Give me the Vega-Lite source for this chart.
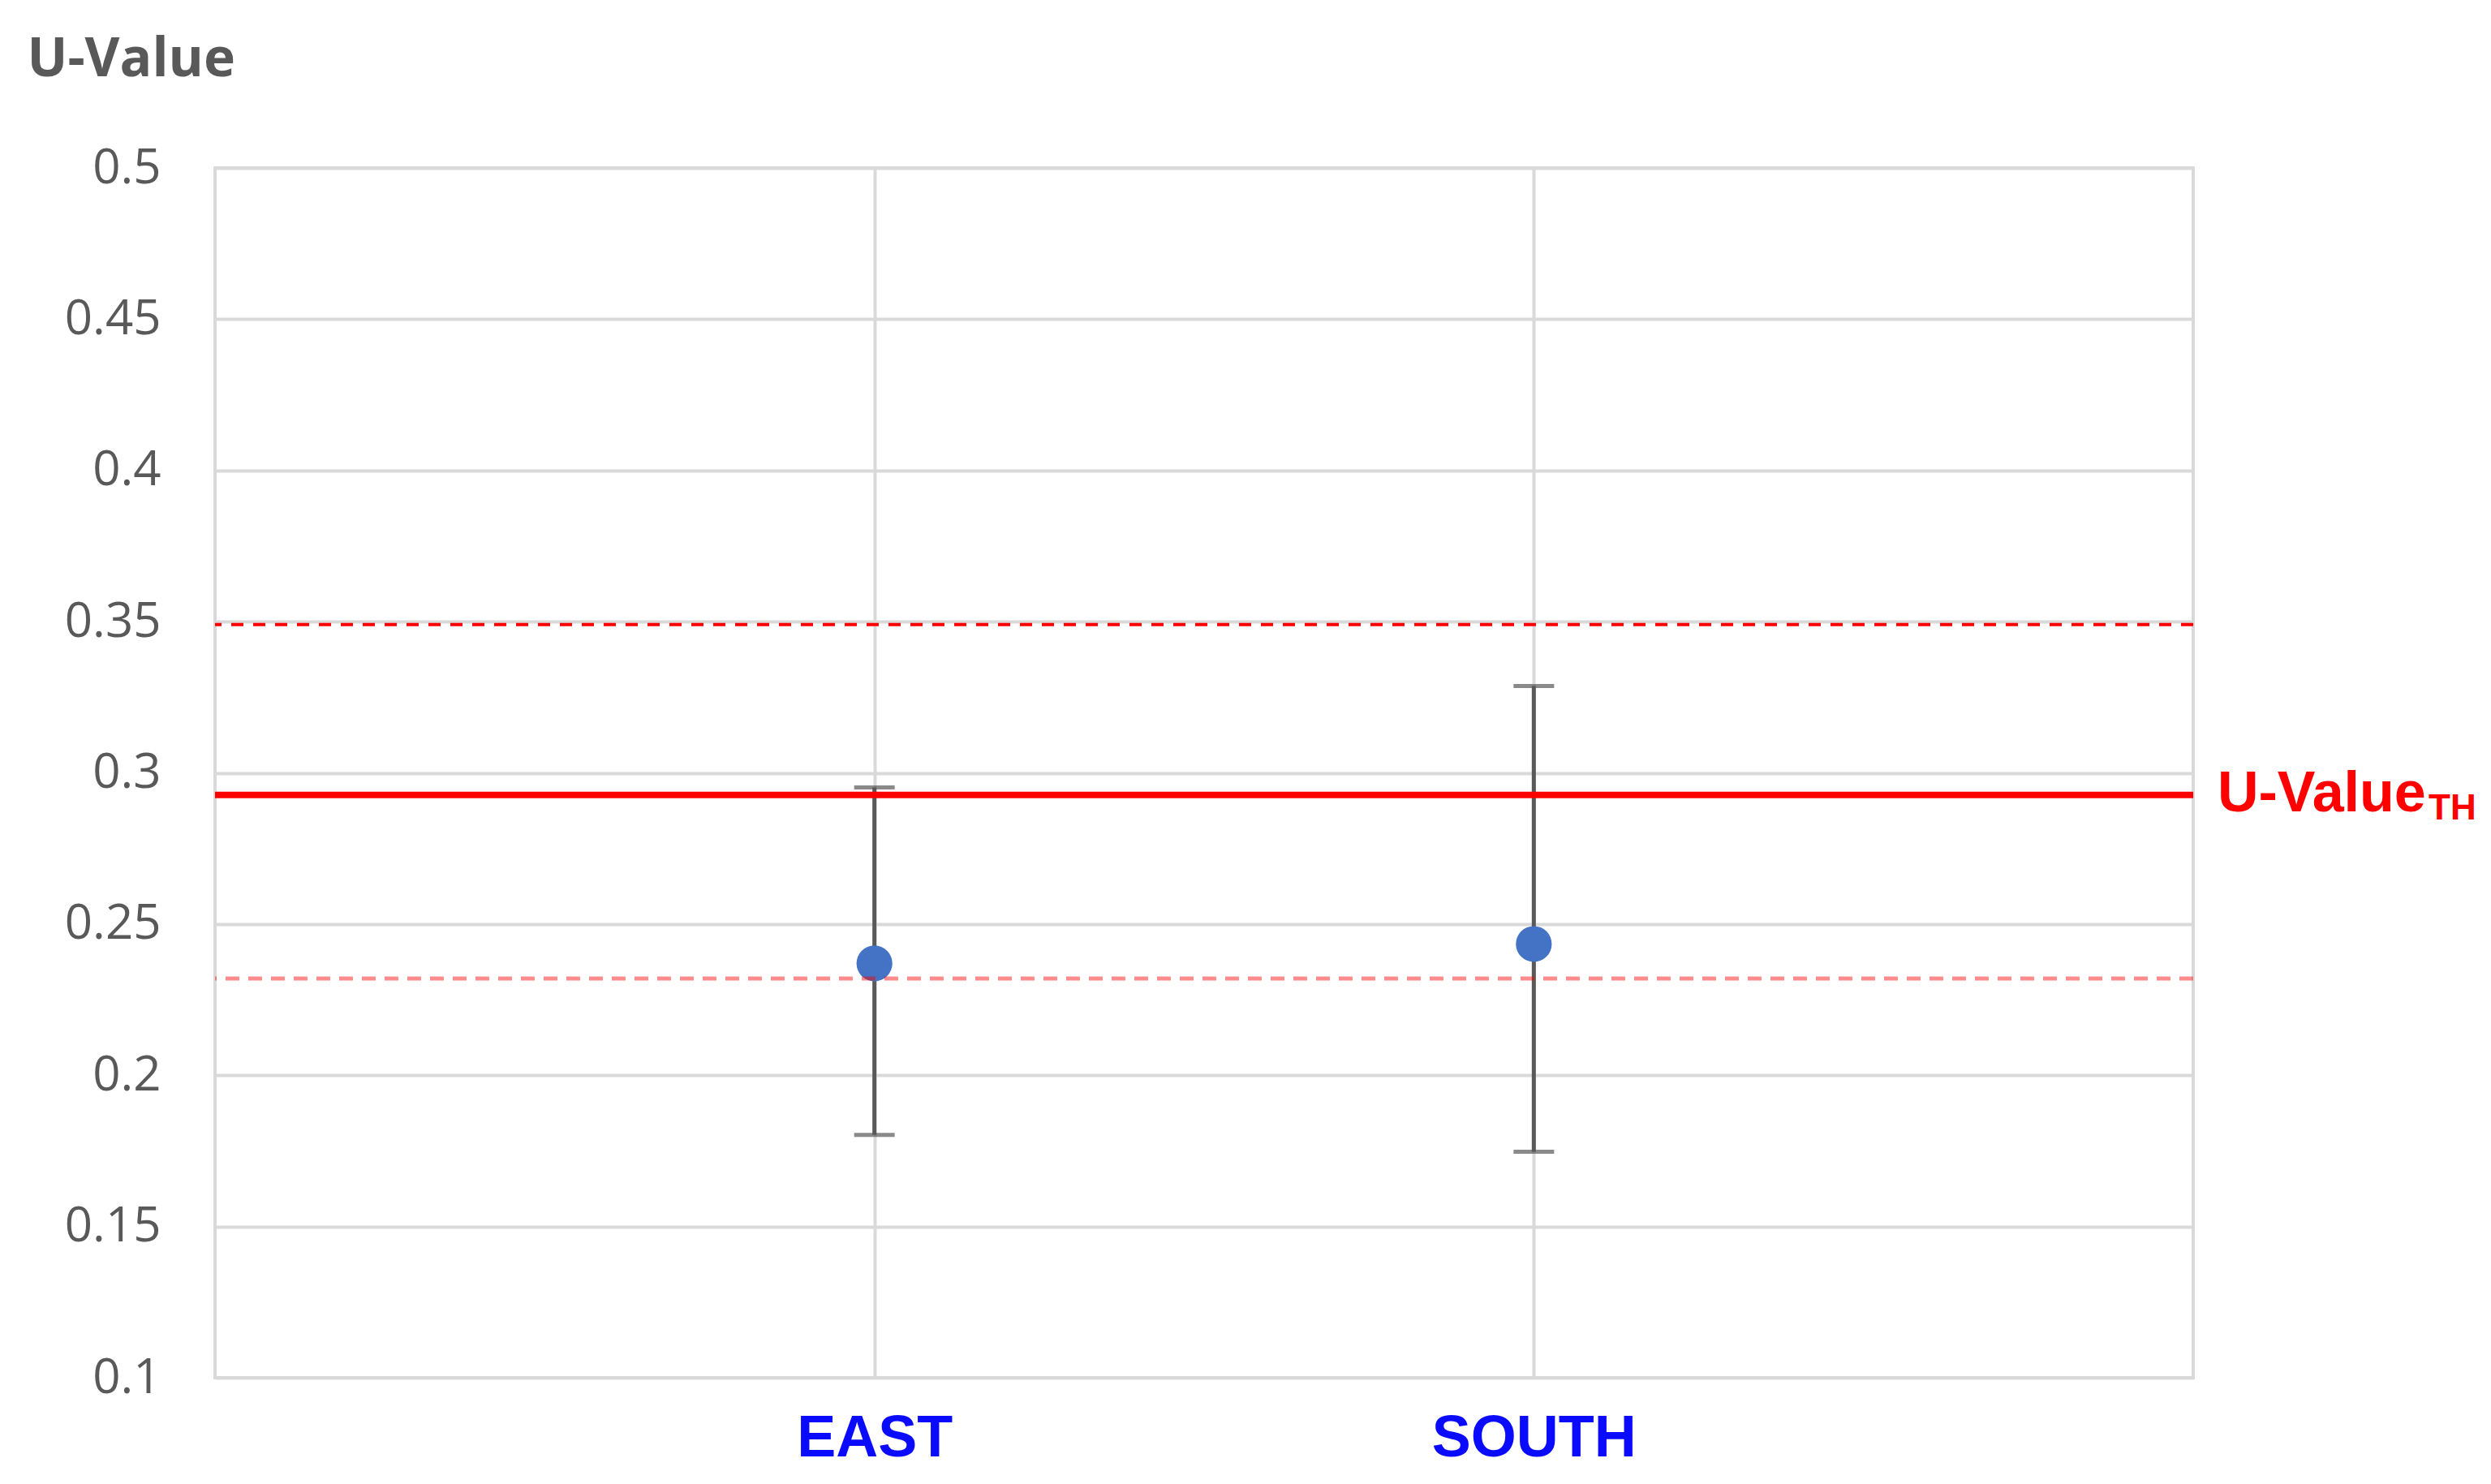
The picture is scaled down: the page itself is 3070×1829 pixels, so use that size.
{
  "$schema": "https://vega.github.io/schema/vega-lite/v6.json",
  "width": 2438,
  "height": 1491,
  "autosize": {"type": "none"},
  "padding": {"left": 265, "top": 207, "right": 367, "bottom": 131},
  "background": "white",
  "config": {
    "view": {"stroke": "#D9D9D9", "strokeWidth": 4},
    "axis": {"gridColor": "#D9D9D9", "gridWidth": 4, "domain": false, "ticks": false, "tickSize": 0}
  },
  "datasets": {
    "points": [
      {"orientation": "EAST", "u": 0.237, "low": 0.1803, "high": 0.2952},
      {"orientation": "SOUTH", "u": 0.2434, "low": 0.1747, "high": 0.3287}
    ],
    "refs": [
      {"name": "threshold", "u": 0.2927},
      {"name": "upper", "u": 0.349},
      {"name": "lower", "u": 0.232}
    ]
  },
  "layer": [
    {
      "data": {"name": "points"},
      "mark": {"type": "rule", "color": "#595959", "strokeWidth": 5},
      "encoding": {
        "x": {
          "field": "orientation", "type": "nominal",
          "scale": {"type": "point", "padding": 1, "domain": ["EAST", "SOUTH"]},
          "axis": {
            "title": null, "grid": true, "labelAngle": 0, "labelLimit": 1000,
            "labelFont": "Liberation Sans", "labelFontWeight": "bold",
            "labelFontSize": 72, "labelColor": "#0A0AFF",
            "labelBaseline": "alphabetic", "labelPadding": 96
          }
        },
        "y": {
          "field": "low", "type": "quantitative",
          "scale": {"domain": [0.1, 0.5], "nice": false, "zero": false},
          "axis": {
            "values": [0.1, 0.15, 0.2, 0.25, 0.3, 0.35, 0.4, 0.45, 0.5],
            "format": "~g", "grid": true,
            "labelFont": "Open Sans", "labelFontSize": 60, "labelColor": "#595959",
            "labelPadding": 67,
            "title": "U-Value", "titleAngle": 0, "titleX": -232, "titleY": -114,
            "titleAlign": "left", "titleBaseline": "alphabetic",
            "titleFont": "Open Sans", "titleFontWeight": "bold", "titleFontSize": 66,
            "titleColor": "#595959"
          }
        },
        "y2": {"field": "high"}
      }
    },
    {
      "data": {"name": "points"},
      "mark": {"type": "tick", "orient": "horizontal", "color": "#595959", "size": 50, "thickness": 5},
      "encoding": {
        "x": {"field": "orientation", "type": "nominal"},
        "y": {"field": "low", "type": "quantitative"}
      }
    },
    {
      "data": {"name": "points"},
      "mark": {"type": "tick", "orient": "horizontal", "color": "#595959", "size": 50, "thickness": 5},
      "encoding": {
        "x": {"field": "orientation", "type": "nominal"},
        "y": {"field": "high", "type": "quantitative"}
      }
    },
    {
      "data": {"name": "points"},
      "mark": {"type": "circle", "color": "#4472C4", "opacity": 1, "size": 1950},
      "encoding": {
        "x": {"field": "orientation", "type": "nominal"},
        "y": {"field": "u", "type": "quantitative"}
      }
    },
    {
      "data": {"name": "refs"},
      "transform": [{"filter": "datum.name === 'upper'"}],
      "mark": {"type": "rule", "color": "#FF0000", "strokeWidth": 4, "strokeDash": [15, 12]},
      "encoding": {"y": {"field": "u", "type": "quantitative"}}
    },
    {
      "data": {"name": "refs"},
      "transform": [{"filter": "datum.name === 'lower'"}],
      "mark": {"type": "rule", "color": "#FF0000", "opacity": 0.45, "strokeWidth": 5, "strokeDash": [17, 11]},
      "encoding": {"y": {"field": "u", "type": "quantitative"}}
    },
    {
      "data": {"name": "refs"},
      "transform": [{"filter": "datum.name === 'threshold'"}],
      "mark": {"type": "rule", "color": "#FF0000", "strokeWidth": 8},
      "encoding": {"y": {"field": "u", "type": "quantitative"}}
    },
    {
      "data": {"name": "refs"},
      "transform": [{"filter": "datum.name === 'threshold'"}],
      "mark": {"type": "text", "text": "U-Value", "color": "#FF0000", "font": "Liberation Sans", "fontWeight": "bold", "fontSize": 70, "align": "left", "baseline": "alphabetic", "dx": 30, "dy": 20},
      "encoding": {
        "x": {"value": "width"},
        "y": {"field": "u", "type": "quantitative"}
      }
    },
    {
      "data": {"name": "refs"},
      "transform": [{"filter": "datum.name === 'threshold'"}],
      "mark": {"type": "text", "text": "TH", "color": "#FF0000", "font": "Liberation Sans", "fontWeight": "bold", "fontSize": 44, "align": "left", "baseline": "alphabetic", "dx": 290, "dy": 30},
      "encoding": {
        "x": {"value": "width"},
        "y": {"field": "u", "type": "quantitative"}
      }
    }
  ]
}
